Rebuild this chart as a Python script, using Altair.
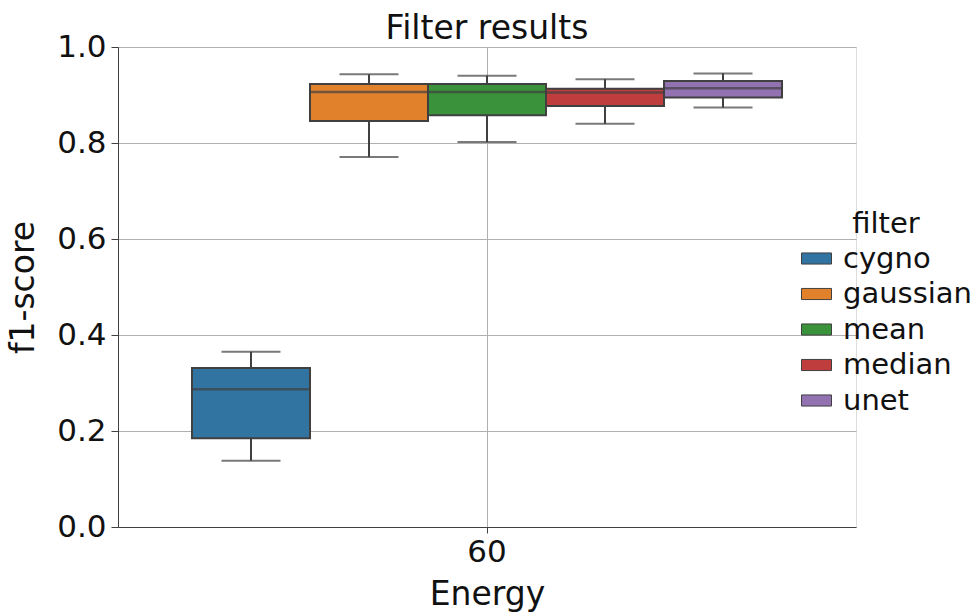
import altair as alt
import pandas as pd

# ---- data ----
filters = ["cygno", "gaussian", "mean", "median", "unet"]
energy = ["60", "60", "60", "60", "60"]
whisker_low = [0.138, 0.771, 0.802, 0.840, 0.874]
q1 = [0.185, 0.846, 0.858, 0.877, 0.895]
median = [0.287, 0.906, 0.906, 0.905, 0.914]
q3 = [0.331, 0.923, 0.923, 0.913, 0.929]
whisker_high = [0.365, 0.943, 0.940, 0.933, 0.945]
colors = ["#3274a1", "#e1812c", "#3a923a", "#c03d3e", "#9372b2"]
y_ticks = [0.0, 0.2, 0.4, 0.6, 0.8, 1.0]

df = pd.DataFrame({
    "Energy": energy,
    "filter": filters,
    "low": whisker_low,
    "q1": q1,
    "median": median,
    "q3": q3,
    "high": whisker_high,
})

FONT = "DejaVu Sans"
LINE = "#404040"
W, H = 738, 480

x_enc = alt.X(
    "Energy:N",
    title="Energy",
    scale=alt.Scale(paddingInner=0, paddingOuter=0.1254),
    axis=alt.Axis(
        labelAngle=0, bandPosition=0.5, grid=True, gridColor="#b0b0b0",
        gridWidth=1, tickSize=6, tickColor=LINE, domainColor=LINE,
        labelFontSize=31, labelPadding=4, titleFontSize=33, titlePadding=11,
        labelFont=FONT, titleFont=FONT, titleFontWeight="normal",
        labelColor="#111", titleColor="#111",
    ),
)
xo_enc = alt.XOffset("filter:N", sort=filters,
                     scale=alt.Scale(paddingInner=0, paddingOuter=0))
y_scale = alt.Scale(domain=[0, 1], nice=False, zero=True)
y_axis = alt.Axis(
    values=y_ticks, format=".1f", grid=True, gridColor="#b0b0b0", gridWidth=1,
    tickSize=7, tickColor=LINE, domainColor=LINE, labelFontSize=31,
    labelPadding=5, titleFontSize=33, titlePadding=16, labelFont=FONT,
    titleFont=FONT, titleFontWeight="normal", labelColor="#111",
    titleColor="#111",
)

base = alt.Chart(df)

whisker = base.mark_rule(color=LINE, strokeWidth=2).encode(
    x=x_enc, xOffset=xo_enc,
    y=alt.Y("low:Q", scale=y_scale, axis=y_axis, title="f1-score"),
    y2="high:Q",
)

box = base.mark_bar(stroke=LINE, strokeWidth=2).encode(
    x=x_enc, xOffset=xo_enc,
    y=alt.Y("q1:Q", scale=y_scale, axis=y_axis, title="f1-score"),
    y2="q3:Q",
    color=alt.Color(
        "filter:N", sort=filters,
        scale=alt.Scale(domain=filters, range=colors),
        legend=alt.Legend(
            title="filter", orient="none", legendX=683, legendY=163,
            titleFontSize=29, labelFontSize=29, titleFont=FONT, labelFont=FONT,
            titleFontWeight="normal", titleColor="#111", labelColor="#111",
            titleAnchor="middle", titlePadding=4,
            symbolType="M-1,-0.37H1V0.37H-1Z", symbolSize=900,
            symbolStrokeColor=LINE, symbolStrokeWidth=1, symbolOpacity=1,
            labelOffset=11, rowPadding=4.5,
        ),
    ),
)

cap_low = base.mark_tick(color=LINE, size=59, thickness=2).encode(
    x=x_enc, xOffset=xo_enc, y=alt.Y("low:Q", scale=y_scale)
)
cap_high = base.mark_tick(color=LINE, size=59, thickness=2).encode(
    x=x_enc, xOffset=xo_enc, y=alt.Y("high:Q", scale=y_scale)
)
med = base.mark_tick(color=LINE, size=118, thickness=2.5).encode(
    x=x_enc, xOffset=xo_enc, y=alt.Y("median:Q", scale=y_scale)
)

chart = alt.layer(whisker, box, cap_low, cap_high, med).properties(
    width=W, height=H,
    title=alt.TitleParams("Filter results", fontSize=33, font=FONT,
                          fontWeight="normal", color="#111", offset=-15,
                          anchor="middle"),
    padding={"left": 118, "top": 47, "right": 123, "bottom": 86},
    autosize=alt.AutoSizeParams(type="none"),
).configure_view(stroke="#b0b0b0", strokeWidth=1).configure(background="white")

chart.save("out.html", embed_options={"renderer": "svg", "actions": False})
